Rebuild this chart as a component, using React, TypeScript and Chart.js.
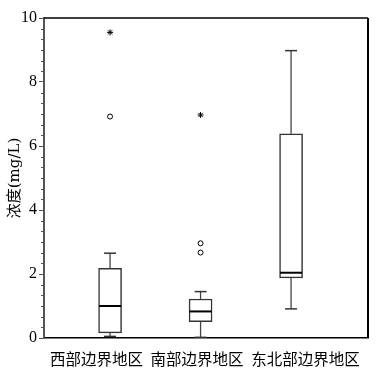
import React, { useEffect, useRef } from "react";
import { Chart, registerables } from "chart.js";

Chart.register(...registerables);

const categories = ["西部边界地区", "南部边界地区", "东北部边界地区"];
const whiskerLow = [0.05, 0.02, 0.91];
const q1 = [0.16, 0.51, 1.88];
const median = [1.0, 0.83, 2.04];
const q3 = [2.18, 1.22, 6.38];
const whiskerHigh = [2.65, 1.45, 8.98];
const mildOutliers = [[6.92], [2.96, 2.67], []];
const extremeOutliers = [[9.55], [6.97], []];
const yTitle = "浓度(mg/L)";
const labelShift = [-0.15, -0.04, 0.16];

const frame = {
  id: "frame",
  afterDraw(chart: any) {
    const { ctx, chartArea: a } = chart;
    ctx.save();
    ctx.strokeStyle = "#000";
    ctx.lineWidth = 1.5;
    ctx.beginPath();
    ctx.moveTo(a.left, a.top);
    ctx.lineTo(a.right, a.top);
    ctx.stroke();
    ctx.lineWidth = 2;
    ctx.beginPath();
    ctx.moveTo(a.right, a.top);
    ctx.lineTo(a.right, a.bottom);
    ctx.stroke();
    // minor ticks on y axis
    const y = chart.scales.y;
    ctx.strokeStyle = "#555";
    ctx.lineWidth = 1;
    for (let i = 0; i <= 30; i++) {
      if (i % 6 === 0) continue;
      const py = Math.round(y.getPixelForValue(i / 3)) + 0.5;
      ctx.beginPath();
      ctx.moveTo(a.left - 3, py);
      ctx.lineTo(a.left, py);
      ctx.stroke();
    }
    ctx.restore();
  },
};

export default function App() {
  const ref = useRef<HTMLCanvasElement>(null);
  useEffect(() => {
    const xs = categories.map((_, i) => i + 1);
    const datasets: any[] = [];
    xs.forEach((x, i) => {
      datasets.push({
        type: "line",
        data: [
          { x, y: q3[i] },
          { x, y: whiskerHigh[i] },
        ],
        borderColor: "#444",
        borderWidth: 1.3,
        pointRadius: 0,
        order: 5,
      });
      datasets.push({
        type: "line",
        data: [
          { x, y: whiskerLow[i] },
          { x, y: q1[i] },
        ],
        borderColor: "#444",
        borderWidth: 1.3,
        pointRadius: 0,
        order: 5,
      });
    });
    datasets.push({
      type: "bar",
      data: xs.map((x, i) => ({ x, y: [q1[i], q3[i]] })),
      backgroundColor: "#fff",
      borderColor: "#333",
      borderWidth: 1.5,
      borderSkipped: false,
      barThickness: 23,
      order: 4,
    });
    datasets.push({
      type: "scatter",
      data: xs.flatMap((x, i) => [
        { x, y: whiskerHigh[i] },
        { x, y: whiskerLow[i] },
      ]),
      pointStyle: "line",
      pointRadius: 6,
      borderColor: "#333",
      borderWidth: 1.5,
      order: 2,
    });
    datasets.push({
      type: "scatter",
      data: xs.map((x, i) => ({ x, y: median[i] })),
      pointStyle: "line",
      pointRadius: 11,
      borderColor: "#000",
      borderWidth: 2,
      order: 1,
    });
    datasets.push({
      type: "scatter",
      data: xs.flatMap((x, i) => mildOutliers[i].map((v) => ({ x, y: v }))),
      pointStyle: "circle",
      pointRadius: 2.5,
      borderColor: "#000",
      backgroundColor: "#fff",
      borderWidth: 1,
      order: 1,
    });
    datasets.push({
      type: "scatter",
      data: xs.flatMap((x, i) => extremeOutliers[i].map((v) => ({ x, y: v }))),
      pointStyle: "star",
      pointRadius: 3,
      borderColor: "#000",
      borderWidth: 1,
      order: 1,
    });

    const chart = new Chart(ref.current!, {
      type: "bar",
      data: { datasets },
      options: {
        responsive: false,
        animation: false,
        events: [],
        layout: { padding: { top: 18, right: 10, left: 0, bottom: 0 } },
        plugins: { legend: { display: false }, tooltip: { enabled: false } },
        scales: {
          x: {
            type: "linear",
            offset: false,
            min: 0.27,
            max: 3.85,
            grid: { display: false, offset: false },
            border: { display: true, color: "#000", width: 1.5 },
            afterBuildTicks: (s: any) => {
              s.ticks = categories.map((_, i) => ({ value: i + 1 + labelShift[i] }));
            },
            afterFit: (s: any) => {
              s.height = 30;
            },
            ticks: {
              autoSkip: false,
              maxRotation: 0,
              padding: 6,
              color: "#000",
              font: { family: "'Liberation Serif', 'Noto Sans CJK SC'", size: 15.5 },
              callback: (_v: any, i: number) => categories[i],
            },
          },
          y: {
            min: 0,
            max: 10,
            grid: { display: true, drawOnChartArea: false, tickLength: 5, tickColor: "#555", tickWidth: 1 },
            border: { display: true, color: "#555", width: 2 },
            afterFit: (s: any) => {
              s.width = 44;
            },
            ticks: {
              stepSize: 2,
              padding: 2,
              color: "#000",
              font: { family: "'Liberation Serif'", size: 16 },
            },
            title: {
              display: true,
              text: yTitle,
              color: "#000",
              padding: { top: 6, bottom: 0 },
              font: { family: "'DejaVu Serif', 'Noto Sans CJK SC'", size: 15 },
            },
          },
        },
      },
      plugins: [frame],
    });
    return () => chart.destroy();
  }, []);
  return (
    <div style={{ position: "absolute", left: 0, top: 0, width: 381, height: 368, background: "#fff" }}>
      <canvas ref={ref} width={381} height={368} style={{ display: "block" }} />
    </div>
  );
}
